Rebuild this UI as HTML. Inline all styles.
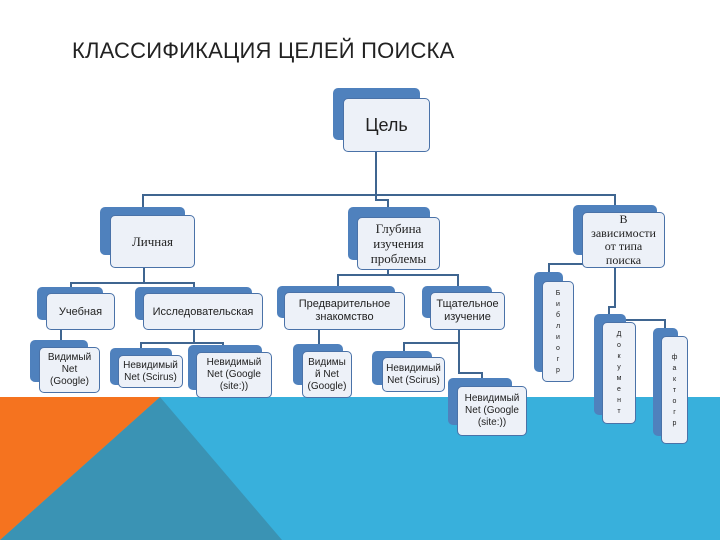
<!DOCTYPE html>
<html><head><meta charset="utf-8"><style>
body{margin:0;width:720px;height:540px;position:relative;overflow:hidden;background:#fff;font-family:"Liberation Sans","Noto Sans CJK SC",sans-serif;}
.b{position:absolute;background:#4f81bd;border-radius:5px;}
.f{position:absolute;background:#edf1f8;border:1.5px solid #4a72a8;border-radius:5px;box-sizing:border-box;display:flex;align-items:center;justify-content:center;text-align:center;color:#222;font-size:10px;line-height:12px;}
.s{font-family:"Liberation Serif",serif;font-size:13px;line-height:15px;}
.v{flex-direction:column;font-size:7px;line-height:11px;}
.l{position:absolute;background:#3f6590;}
</style></head><body>
<svg style="position:absolute;left:0;top:0" width="720" height="540">
<rect x="0" y="397" width="720" height="143" fill="#38b0dc"/>
<polygon points="160,397 282,540 0,540" fill="#3a93b4"/>
<polygon points="0,397 160,397 0,540" fill="#f5731f"/>
</svg>
<div style="position:absolute;left:72px;top:38px;font-size:22px;color:#222;letter-spacing:0.2px">КЛАССИФИКАЦИЯ ЦЕЛЕЙ ПОИСКА</div>

<!-- connectors -->
<div class="l" style="left:375px;top:152px;width:2px;height:44px"></div>
<div class="l" style="left:142px;top:194px;width:473px;height:2px"></div>
<div class="l" style="left:142px;top:194px;width:2px;height:14px"></div>
<div class="l" style="left:375px;top:194px;width:2px;height:6px"></div>
<div class="l" style="left:375px;top:199px;width:13px;height:2px"></div>
<div class="l" style="left:387px;top:199px;width:2px;height:10px"></div>
<div class="l" style="left:614px;top:194px;width:2px;height:12px"></div>

<div class="l" style="left:143px;top:268px;width:2px;height:15px"></div>
<div class="l" style="left:70px;top:282px;width:124px;height:2px"></div>
<div class="l" style="left:70px;top:282px;width:2px;height:6px"></div>
<div class="l" style="left:193px;top:282px;width:2px;height:6px"></div>
<div class="l" style="left:60px;top:330px;width:2px;height:12px"></div>
<div class="l" style="left:193px;top:330px;width:2px;height:13px"></div>
<div class="l" style="left:140px;top:342px;width:84px;height:2px"></div>
<div class="l" style="left:140px;top:342px;width:2px;height:8px"></div>
<div class="l" style="left:222px;top:342px;width:2px;height:5px"></div>

<div class="l" style="left:387px;top:270px;width:2px;height:5px"></div>
<div class="l" style="left:337px;top:274px;width:122px;height:2px"></div>
<div class="l" style="left:337px;top:274px;width:2px;height:13px"></div>
<div class="l" style="left:457px;top:274px;width:2px;height:13px"></div>
<div class="l" style="left:318px;top:330px;width:2px;height:15px"></div>
<div class="l" style="left:458px;top:330px;width:2px;height:44px"></div>
<div class="l" style="left:403px;top:342px;width:57px;height:2px"></div>
<div class="l" style="left:403px;top:342px;width:2px;height:10px"></div>
<div class="l" style="left:458px;top:372px;width:25px;height:2px"></div>
<div class="l" style="left:481px;top:372px;width:2px;height:7px"></div>

<div class="l" style="left:614px;top:268px;width:2px;height:40px"></div>
<div class="l" style="left:548px;top:263px;width:35px;height:2px"></div>
<div class="l" style="left:548px;top:263px;width:2px;height:10px"></div>
<div class="l" style="left:608px;top:306px;width:8px;height:2px"></div>
<div class="l" style="left:608px;top:306px;width:2px;height:9px"></div>
<div class="l" style="left:625px;top:319px;width:41px;height:2px"></div>
<div class="l" style="left:664px;top:319px;width:2px;height:10px"></div>

<!-- nodes -->
<div class="b" style="left:333px;top:88px;width:87px;height:52px"></div>
<div class="f" style="left:343px;top:98px;width:87px;height:54px;font-size:18px">Цель</div>

<div class="b" style="left:100px;top:207px;width:85px;height:48px"></div>
<div class="f s" style="left:110px;top:215px;width:85px;height:53px">Личная</div>

<div class="b" style="left:348px;top:207px;width:82px;height:53px"></div>
<div class="f s" style="left:357px;top:217px;width:83px;height:53px">Глубина<br>изучения<br>проблемы</div>

<div class="b" style="left:573px;top:205px;width:84px;height:50px"></div>
<div class="f s" style="left:582px;top:212px;width:83px;height:56px;font-size:12px;line-height:13.5px">В<br>зависимости<br>от типа<br>поиска</div>

<div class="b" style="left:37px;top:287px;width:66px;height:33px"></div>
<div class="f" style="left:46px;top:293px;width:69px;height:37px;font-size:11px">Учебная</div>

<div class="b" style="left:135px;top:287px;width:117px;height:33px"></div>
<div class="f" style="left:143px;top:293px;width:120px;height:37px;font-size:11px">Исследовательская</div>

<div class="b" style="left:30px;top:340px;width:58px;height:42px"></div>
<div class="f" style="left:39px;top:347px;width:61px;height:46px">Видимый<br>Net<br>(Google)</div>

<div class="b" style="left:110px;top:348px;width:62px;height:37px"></div>
<div class="f" style="left:118px;top:355px;width:65px;height:33px">Невидимый<br>Net (Scirus)</div>

<div class="b" style="left:188px;top:345px;width:74px;height:45px"></div>
<div class="f" style="left:196px;top:352px;width:76px;height:46px">Невидимый<br>Net (Google<br>(site:))</div>

<div class="b" style="left:277px;top:286px;width:118px;height:32px"></div>
<div class="f" style="left:284px;top:292px;width:121px;height:38px;font-size:11px;line-height:13px">Предварительное<br>знакомство</div>

<div class="b" style="left:422px;top:286px;width:70px;height:32px"></div>
<div class="f" style="left:430px;top:292px;width:75px;height:38px;font-size:11px;line-height:13px">Тщательное<br>изучение</div>

<div class="b" style="left:293px;top:344px;width:50px;height:41px"></div>
<div class="f" style="left:302px;top:351px;width:50px;height:47px">Видимы<br>й Net<br>(Google)</div>

<div class="b" style="left:372px;top:351px;width:60px;height:34px"></div>
<div class="f" style="left:382px;top:357px;width:63px;height:35px">Невидимый<br>Net (Scirus)</div>

<div class="b" style="left:448px;top:378px;width:64px;height:47px"></div>
<div class="f" style="left:457px;top:386px;width:70px;height:50px">Невидимый<br>Net (Google<br>(site:))</div>

<div class="b" style="left:534px;top:272px;width:29px;height:100px"></div>
<div class="f v" style="left:542px;top:281px;width:32px;height:101px"><span>Б</span><span>и</span><span>б</span><span>л</span><span>и</span><span>о</span><span>г</span><span>р</span></div>

<div class="b" style="left:594px;top:314px;width:32px;height:101px"></div>
<div class="f v" style="left:602px;top:322px;width:34px;height:102px"><span>Д</span><span>о</span><span>к</span><span>у</span><span>м</span><span>е</span><span>н</span><span>т</span></div>

<div class="b" style="left:653px;top:328px;width:25px;height:108px"></div>
<div class="f v" style="left:661px;top:336px;width:27px;height:108px"><span>ф</span><span>а</span><span>к</span><span>т</span><span>о</span><span>г</span><span>р</span></div>
</body></html>
